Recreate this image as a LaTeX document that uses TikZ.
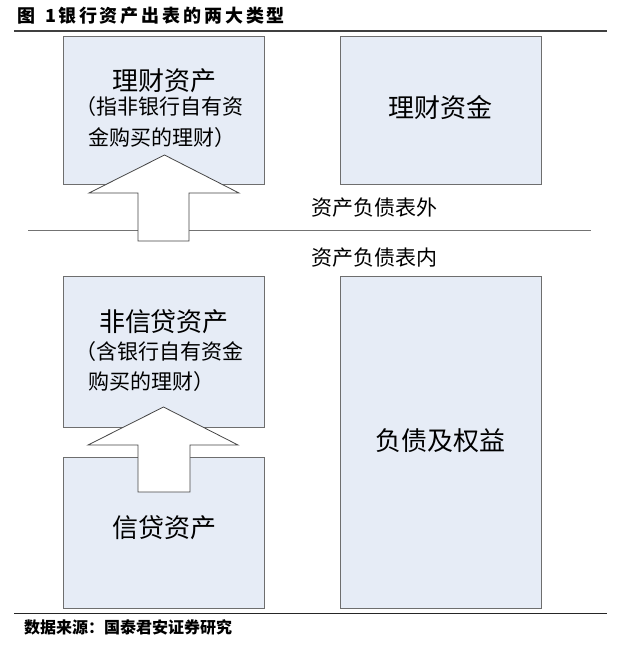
\documentclass[tikz,border=0pt]{standalone}
\usepackage{fontspec}
\newfontfamily\cjk{Noto Sans CJK SC}
\newfontfamily\cjkhalt[RawFeature=+halt]{Noto Sans CJK SC}
\definecolor{boxfill}{RGB}{230,236,246}
\definecolor{boxline}{RGB}{110,110,110}
\definecolor{arrline}{RGB}{70,70,70}
\begin{document}
\begin{tikzpicture}[x=1pt,y=-1pt,
  panel/.style={draw=boxline, fill=boxfill, line width=0.9pt, inner sep=0pt, outer sep=0pt},
  bigtxt/.style={inner sep=0pt, font=\cjk\fontsize{26}{26}\selectfont},
  subtxt/.style={inner sep=0pt, anchor=west, font=\cjkhalt\fontsize{21}{21}\selectfont},
  lbltxt/.style={inner sep=0pt, font=\cjk\fontsize{21}{21}\selectfont},
  uparrow/.style={draw=arrline, fill=white, line width=0.8pt, line join=miter}]
\useasboundingbox (0,0) rectangle (623,649);
\fill[white] (0,0) rectangle (623,649);

% title
\node[inner sep=0pt, anchor=west, font=\cjk\bfseries\fontsize{18}{18}\selectfont\addfontfeature{LetterSpace=16}] (title) at (17,15.5) {图\hspace{10pt}1\hspace{2pt}银行资产出表的两大类型};
\draw[black!75, line width=1.2pt] (14,31) -- (607,31);

% boxes
\node[panel, minimum width=200.5pt, minimum height=148pt] (b1) at (163.75,110) {};
\node[panel, minimum width=201pt, minimum height=148pt] (b2) at (440.5,110) {};
\node[panel, minimum width=200.5pt, minimum height=150.5pt] (b3) at (163.75,351.75) {};
\node[panel, minimum width=200.5pt, minimum height=151pt] (b4) at (163.75,532.5) {};
\node[panel, minimum width=201pt, minimum height=331.5pt] (b5) at (440.5,442.25) {};

% middle separator
\draw[black!55, line width=1pt] (28,230) -- (591,230);

% texts
\node[bigtxt] (t1) at (164,81) {理财资产};
\node[subtxt] (t1b) at (86,107) {（指非银行自有资};
\node[subtxt] (t1c) at (88,138) {金购买的理财）};
\node[bigtxt] (t2) at (440,108) {理财资金};
\node[lbltxt] (lout) at (374.7,208) {资产负债表外};
\node[lbltxt] (lin) at (374.7,258) {资产负债表内};
\node[bigtxt] (t3) at (164,322) {非信贷资产};
\node[subtxt] (t3b) at (86,352) {（含银行自有资金};
\node[subtxt] (t3c) at (88,382) {购买的理财）};
\node[bigtxt] (t4) at (164,528) {信贷资产};
\node[bigtxt] (t5) at (440,441) {负债及权益};

% block arrows
\draw[uparrow] (164.5,155) -- (239,193) -- (189,193) -- (189,241) -- (138,241) -- (138,193) -- (89,193) -- cycle;
\draw[uparrow] (163.5,407) -- (238,445) -- (190,445) -- (190,492) -- (138,492) -- (138,445) -- (88,445) -- cycle;

% bottom rule and source
\draw[black!85, line width=1.2pt] (14,613.5) -- (607,613.5);
\node[inner sep=0pt, anchor=west, font=\cjk\bfseries\fontsize{16}{16}\selectfont] (src) at (24,627) {数据来源：国泰君安证券研究};
\end{tikzpicture}
\end{document}
